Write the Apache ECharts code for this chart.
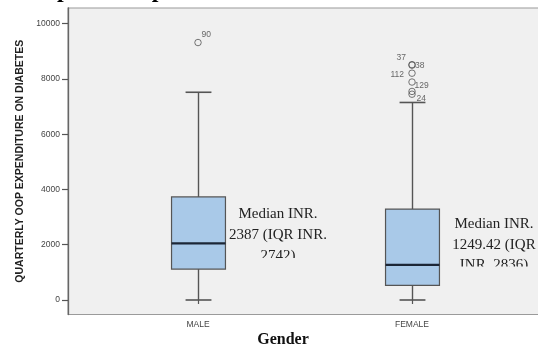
<!DOCTYPE html>
<html>
<head>
<meta charset="utf-8">
<script src="https://cdn.jsdelivr.net/npm/echarts@6/dist/echarts.min.js"></script>
<style>
html,body{margin:0;padding:0;background:#fff;overflow:hidden;}
#chart{width:538px;height:352px;}
</style>
</head>
<body>
<div id="chart"></div>
<script>
// ---- data ----
var categories = ['MALE', 'FEMALE'];
var boxMin    = [0, 0];
var boxQ1     = [1120, 530];
var boxMedian = [2050, 1270];
var boxQ3     = [3730, 3290];
var boxMax    = [7520, 7150];

var outlierCategory = [0, 1, 1, 1, 1, 1, 1];
var outlierValue    = [9320, 8520, 8500, 8210, 7890, 7550, 7450];
var outlierId       = ['90', '37', '38', '112', '129', '', '24'];

var yTicks = [0, 2000, 4000, 6000, 8000, 10000];

var maleNote   = 'Median INR.\n2387 (IQR INR.\n2742)';
var femaleNote = 'Median INR.\n1249.42 (IQR\nINR. 2836)';

// ---- label placement (style only) ----
var labelStyle = {
  '90':  {align: 'left',  offset: [3.5, -8]},
  '37':  {align: 'right', offset: [-6, -7]},
  '38':  {align: 'left',  offset: [3, 0]},
  '112': {align: 'right', offset: [-8, 1.5]},
  '129': {align: 'left',  offset: [2.5, 4]},
  '':    {align: 'left',  offset: [0, 0]},
  '24':  {align: 'left',  offset: [4.5, 4.5]}
};

var boxData = categories.map(function (c, i) {
  return [i, boxMin[i], boxQ1[i], boxMedian[i], boxQ3[i], boxMax[i]];
});
var outlierData = outlierValue.map(function (v, i) {
  var st = labelStyle[outlierId[i]];
  return {
    value: [outlierCategory[i], v],
    name: outlierId[i],
    label: {align: st.align, offset: st.offset}
  };
});

var Y_MIN = -525, Y_MAX = 10570;
var chart = echarts.init(document.getElementById('chart'), null, {renderer: 'canvas'});

var option = {
  animation: false,
  backgroundColor: '#ffffff',
  grid: [
    {left: 68, right: -30, top: 8, bottom: 37.5, show: true, backgroundColor: '#f0f0f0',
     borderColor: '#9a9a9a', borderWidth: 1.2, outerBoundsMode: 'none', containLabel: false},
    {left: 91, right: 19, top: 8, bottom: 37.5, outerBoundsMode: 'none', containLabel: false}
  ],
  xAxis: [
    {gridIndex: 0, type: 'value', min: 0, max: 1, show: false},
    {gridIndex: 1, type: 'category', data: categories,
     axisLine: {show: false},
     axisTick: {show: true, alignWithLabel: true, length: 4, lineStyle: {color: '#555', width: 1.2}},
     axisLabel: {margin: 6, fontSize: 8.5, fontFamily: 'Liberation Sans, Arial, sans-serif', color: '#444'},
     splitLine: {show: false}}
  ],
  yAxis: [
    {gridIndex: 0, type: 'value', min: Y_MIN, max: Y_MAX,
     name: 'QUARTERLY OOP EXPENDITURE ON DIABETES', nameLocation: 'middle', nameRotate: 90, nameGap: 42,
     nameTextStyle: {fontSize: 10.5, fontWeight: 'bold', fontFamily: 'Liberation Sans, Arial, sans-serif', color: '#222'},
     axisLine: {show: true, lineStyle: {color: '#666', width: 1.3}},
     axisTick: {show: true, length: 6, customValues: yTicks, lineStyle: {color: '#555', width: 1.2}},
     axisLabel: {margin: 8, customValues: yTicks, fontSize: 8.5, fontFamily: 'Liberation Sans, Arial, sans-serif', color: '#444',
                 formatter: function (v) { return String(v); }},
     splitLine: {show: false}},
    {gridIndex: 1, type: 'value', min: Y_MIN, max: Y_MAX, show: false}
  ],
  series: [
    {
      type: 'custom',
      xAxisIndex: 1, yAxisIndex: 1,
      data: boxData,
      encode: {x: 0, y: [1, 2, 3, 4, 5]},
      z: 3,
      renderItem: function (params, api) {
        var ci = api.value(0);
        var pMin = api.coord([ci, api.value(1)]);
        var pQ1 = api.coord([ci, api.value(2)]);
        var pMed = api.coord([ci, api.value(3)]);
        var pQ3 = api.coord([ci, api.value(4)]);
        var pMax = api.coord([ci, api.value(5)]);
        var band = api.size([1, 0])[0];
        var bw = band * 0.252;
        var cw = bw * 0.48;
        var cx = Math.round(pMin[0]) + 0.5;
        var lineC = '#555555';
        return {
          type: 'group',
          children: [
            {type: 'line', shape: {x1: cx, y1: pQ3[1], x2: cx, y2: pMax[1]}, style: {stroke: lineC, lineWidth: 1.4}},
            {type: 'line', shape: {x1: cx, y1: pQ1[1], x2: cx, y2: pMin[1]}, style: {stroke: lineC, lineWidth: 1.4}},
            {type: 'line', shape: {x1: cx - cw / 2, y1: pMax[1], x2: cx + cw / 2, y2: pMax[1]}, style: {stroke: lineC, lineWidth: 1.6}},
            {type: 'line', shape: {x1: cx - cw / 2, y1: pMin[1], x2: cx + cw / 2, y2: pMin[1]}, style: {stroke: lineC, lineWidth: 1.6}},
            {type: 'rect', shape: {x: cx - bw / 2, y: pQ3[1], width: bw, height: pQ1[1] - pQ3[1]},
             style: {fill: '#a9c9e8', stroke: '#555555', lineWidth: 1.2}},
            {type: 'line', shape: {x1: cx - bw / 2, y1: pMed[1], x2: cx + bw / 2, y2: pMed[1]},
             style: {stroke: '#1c2636', lineWidth: 2.2}}
          ]
        };
      }
    },
    {
      type: 'scatter',
      xAxisIndex: 1, yAxisIndex: 1,
      data: outlierData,
      symbol: 'circle',
      symbolSize: 6.5,
      z: 4,
      itemStyle: {color: 'rgba(0,0,0,0)', borderColor: '#555', borderWidth: 1},
      label: {
        show: true, position: 'inside', verticalAlign: 'middle',
        formatter: function (p) { return p.name; },
        fontSize: 8.5, fontFamily: 'Liberation Sans, Arial, sans-serif', color: '#444'
      }
    }
  ],
  graphic: [
    {type: 'text', x: 17, y: 2.3, z: 10,
     style: {text: 'Boxplot of expenditure', font: 'bold 24px "Liberation Serif", serif', fill: '#000',
             verticalAlign: 'bottom'}},
    {type: 'text', x: 278, y: 204, z: 10,
     style: {text: maleNote, font: '15px "Liberation Serif", serif', fill: '#222', align: 'center', lineHeight: 21}},
    {type: 'text', x: 494, y: 214, z: 10,
     style: {text: femaleNote, font: '15px "Liberation Serif", serif', fill: '#222', align: 'center', lineHeight: 20.5}},
    {type: 'rect', z: 11, shape: {x: 228, y: 258, width: 104, height: 18}, style: {fill: '#f0f0f0'}},
    {type: 'rect', z: 11, shape: {x: 446, y: 266.5, width: 110, height: 18}, style: {fill: '#f0f0f0'}},
    {type: 'text', x: 283, y: 332, z: 10,
     style: {text: 'Gender', font: 'bold 16px "Liberation Serif", serif', fill: '#111', align: 'center'}}
  ]
};
chart.setOption(option);
</script>
</body>
</html>
